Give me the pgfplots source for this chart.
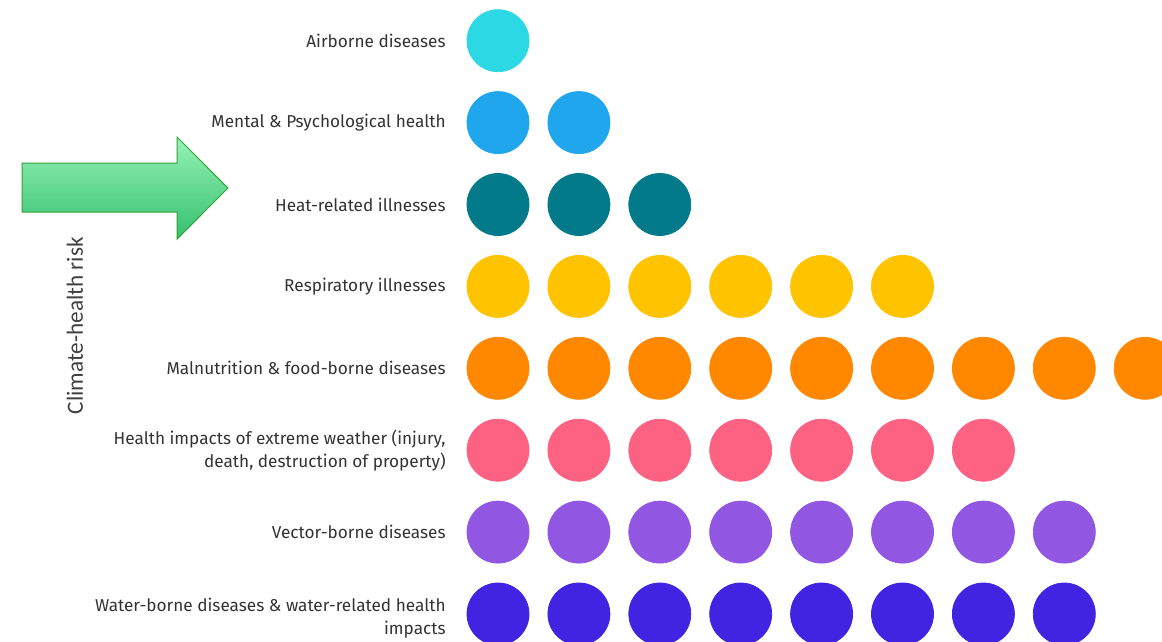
\documentclass[border=0pt]{standalone}
\usepackage{pgfplots}
\pgfplotsset{compat=1.18}
\usepackage{fontspec}
\setmainfont{Fira Sans}
\newfontfamily\calib{Carlito}

\definecolor{cAir}{HTML}{2BD8E4}
\definecolor{cMental}{HTML}{1FA6EC}
\definecolor{cHeat}{HTML}{027A8A}
\definecolor{cResp}{HTML}{FFC300}
\definecolor{cMal}{HTML}{FF8800}
\definecolor{cExt}{HTML}{FE6283}
\definecolor{cVec}{HTML}{9157E3}
\definecolor{cWat}{HTML}{4124E2}
\definecolor{txt}{HTML}{333333}

\begin{document}
\begin{tikzpicture}
\begin{axis}[
    name=ax,
    scale only axis,
    width=581pt, height=320.5pt,
    xmin=-5.156, xmax=9.208,
    ymin=0.670, ymax=8.497,
    axis lines=none,
    clip=true,
    only marks,
    every axis plot/.append style={mark=*, mark size=15.5pt},
]
% one dot per unit, rows from bottom (1) to top (8)
\addplot[mark options={fill=cAir, draw=cAir}] coordinates {(1,8)};
\addplot[mark options={fill=cMental, draw=cMental}] coordinates {(1,7) (2,7)};
\addplot[mark options={fill=cHeat, draw=cHeat}] coordinates {(1,6) (2,6) (3,6)};
\addplot[mark options={fill=cResp, draw=cResp}] coordinates {
    (1,5) (2,5) (3,5) (4,5) (5,5) (6,5)};
\addplot[mark options={fill=cMal, draw=cMal}] coordinates {
    (1,4) (2,4) (3,4) (4,4) (5,4) (6,4) (7,4) (8,4) (9,4)};
\addplot[mark options={fill=cExt, draw=cExt}] coordinates {
    (1,3) (2,3) (3,3) (4,3) (5,3) (6,3) (7,3)};
\addplot[mark options={fill=cVec, draw=cVec}] coordinates {
    (1,2) (2,2) (3,2) (4,2) (5,2) (6,2) (7,2) (8,2)};
\addplot[mark options={fill=cWat, draw=cWat}] coordinates {
    (1,1) (2,1) (3,1) (4,1) (5,1) (6,1) (7,1) (8,1)};

% category labels
\begin{scope}[every node/.style={anchor=east, align=right, inner sep=0pt,
    font=\fontsize{8.6}{11.5}\selectfont, text=txt}]
\node at (axis cs:0.357,8) {Airborne diseases};
\node at (axis cs:0.357,7) {Mental \& Psychological health};
\node at (axis cs:0.357,6) {Heat-related illnesses};
\node at (axis cs:0.357,5) {Respiratory illnesses};
\node at (axis cs:0.357,4) {Malnutrition \& food-borne diseases};
\node at (axis cs:0.357,3) {Health impacts of extreme weather (injury,\\death, destruction of property)};
\node at (axis cs:0.357,2) {Vector-borne diseases};
\node at (axis cs:0.357,0.95) {Water-borne diseases \& water-related health\\impacts};
\end{scope}

% y label
\node[rotate=90, font=\calib\fontsize{11.6}{13}\selectfont, text=black!75]
    at (axis cs:-4.229,4.52) {Climate-health risk};

% green arrow
\draw[draw=green!55!black!80, line width=0.5pt,
      top color={rgb,255:red,150;green,242;blue,182},
      bottom color={rgb,255:red,52;green,192;blue,112}]
    (axis cs:-4.884,6.506) -- (axis cs:-2.968,6.506) -- (axis cs:-2.968,6.824)
    -- (axis cs:-2.338,6.201) -- (axis cs:-2.968,5.578) -- (axis cs:-2.968,5.908)
    -- (axis cs:-4.884,5.908) -- cycle;
\end{axis}
\pgfresetboundingbox
\path (ax.south west) rectangle (ax.north east);
\end{tikzpicture}
\end{document}
